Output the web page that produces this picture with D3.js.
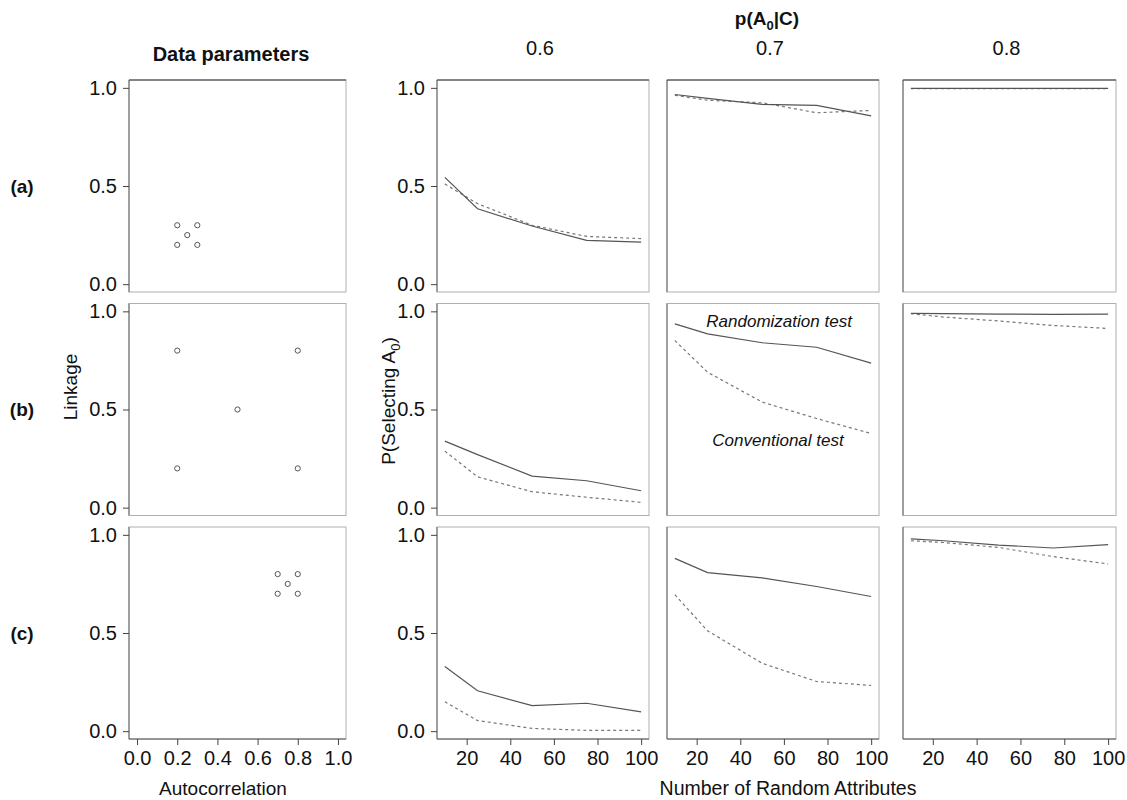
<!DOCTYPE html>
<html>
<head>
<meta charset="utf-8">
<script src="https://cdn.jsdelivr.net/npm/d3@7"></script>
<style>
  body { margin: 0; background: #fff; }
  text { font-family: "Liberation Sans", Arial, Helvetica, sans-serif; fill: #111; }
</style>
</head>
<body>
<script>
var width = 1127;
var height = 800;

// data
var numAttrs = [10, 25, 50, 75, 100];
var pLevels = ["0.6", "0.7", "0.8"];
var rowLabels = ["(a)", "(b)", "(c)"];

// [autocorrelation, linkage] of the generated data sets
var paramsA = [[0.2, 0.2], [0.3, 0.2], [0.25, 0.25], [0.2, 0.3], [0.3, 0.3]];
var paramsB = [[0.2, 0.2], [0.8, 0.2], [0.5, 0.5], [0.2, 0.8], [0.8, 0.8]];
var paramsC = [[0.7, 0.7], [0.8, 0.7], [0.75, 0.75], [0.7, 0.8], [0.8, 0.8]];

// randomization test (solid), one array per p(A0|C) level
var randA = [[0.544, 0.384, 0.296, 0.223, 0.214],
             [0.966, 0.946, 0.916, 0.911, 0.857],
             [0.997, 0.997, 0.997, 0.997, 0.997]];
var randB = [[0.339, 0.270, 0.161, 0.137, 0.086],
             [0.936, 0.885, 0.840, 0.817, 0.736],
             [0.990, 0.988, 0.986, 0.985, 0.986]];
var randC = [[0.329, 0.206, 0.130, 0.142, 0.098],
             [0.880, 0.808, 0.781, 0.737, 0.686],
             [0.980, 0.970, 0.948, 0.933, 0.950]];

// conventional test (dashed)
var convA = [[0.510, 0.410, 0.300, 0.243, 0.232],
             [0.962, 0.937, 0.924, 0.873, 0.885],
             [0.996, 0.996, 0.996, 0.996, 0.996]];
var convB = [[0.288, 0.157, 0.081, 0.053, 0.027],
             [0.851, 0.690, 0.538, 0.454, 0.378],
             [0.988, 0.971, 0.951, 0.928, 0.913]];
var convC = [[0.150, 0.054, 0.014, 0.004, 0.004],
             [0.695, 0.511, 0.346, 0.253, 0.233],
             [0.970, 0.961, 0.936, 0.889, 0.852]];

var params = [paramsA, paramsB, paramsC];
var rand = [randA, randB, randC];
var conv = [convA, convB, convC];

// layout
var colLeft = [129, 437, 667, 903];
var colW = [217, 212, 212, 213];
var rowTop = [80, 303.5, 527];
var panelH = 212;

var svg = d3.select("body").append("svg")
    .attr("width", width)
    .attr("height", height);

var y = d3.scaleLinear().domain([-0.04, 1.04]).range([panelH, 0]);
var xPar = d3.scaleLinear().domain([-0.04, 1.04]).range([0, colW[0]]);

var line = function (xs) {
  return d3.line()
    .x(function (d, i) { return xs(numAttrs[i]); })
    .y(function (d) { return y(d); });
};

function styleAxis(g) {
  g.select(".domain").remove();
  g.selectAll(".tick line").attr("stroke", "#444");
  g.selectAll(".tick text")
    .style("font-size", "20px")
    .attr("fill", "#111");
}

function frame(g, w, r) {
  g.append("rect")
    .attr("width", w).attr("height", panelH)
    .attr("fill", "none").attr("stroke", "#b0b0b0");
  g.append("line")
    .attr("x1", 0).attr("x2", 0).attr("y1", 0).attr("y2", panelH)
    .attr("stroke", "#666");
  if (r == 0) {
    g.append("line").attr("x1", 0).attr("x2", w).attr("y1", 0).attr("y2", 0)
      .attr("stroke", "#333");
  }
  if (r == 2) {
    g.append("line").attr("x1", 0).attr("x2", w).attr("y1", panelH).attr("y2", panelH)
      .attr("stroke", "#555");
  }
}

rowLabels.forEach(function (lab, r) {
  // data parameter panel
  var g = svg.append("g")
      .attr("transform", "translate(" + colLeft[0] + "," + rowTop[r] + ")");
  frame(g, colW[0], r);

  g.append("g")
    .call(d3.axisLeft(y).tickValues([0, 0.5, 1]).tickFormat(d3.format(".1f"))
      .tickSize(6).tickPadding(6))
    .call(styleAxis);

  if (r == 2) {
    g.append("g")
      .attr("transform", "translate(0," + panelH + ")")
      .call(d3.axisBottom(xPar).tickValues([0, 0.2, 0.4, 0.6, 0.8, 1])
        .tickFormat(d3.format(".1f")).tickSize(6).tickPadding(6))
      .call(styleAxis);
  }

  g.selectAll("circle")
    .data(params[r])
    .enter().append("circle")
    .attr("cx", function (d) { return xPar(d[0]); })
    .attr("cy", function (d) { return y(d[1]); })
    .attr("r", 2.6)
    .attr("fill", "none")
    .attr("stroke", "#555")
    .attr("stroke-width", 1);

  svg.append("text")
    .attr("x", 22).attr("y", rowTop[r] + y(0.5))
    .attr("dy", "0.35em")
    .attr("text-anchor", "middle")
    .style("font-size", "19px").style("font-weight", "bold")
    .text(lab);

  // p(A0|C) panels
  pLevels.forEach(function (p, c) {
    var w = colW[c + 1];
    var x = d3.scaleLinear().domain([6.4, 103.6]).range([0, w]);
    var pg = svg.append("g")
        .attr("transform", "translate(" + colLeft[c + 1] + "," + rowTop[r] + ")");
    frame(pg, w, r);

    if (c == 0) {
      pg.append("g")
        .call(d3.axisLeft(y).tickValues([0, 0.5, 1]).tickFormat(d3.format(".1f"))
          .tickSize(6).tickPadding(6))
        .call(styleAxis);
    }
    if (r == 2) {
      pg.append("g")
        .attr("transform", "translate(0," + panelH + ")")
        .call(d3.axisBottom(x).tickValues([20, 40, 60, 80, 100])
          .tickSize(6).tickPadding(6))
        .call(styleAxis);
    }

    pg.append("path")
      .datum(conv[r][c])
      .attr("d", line(x))
      .attr("fill", "none")
      .attr("stroke", "#777")
      .attr("stroke-width", 1.2)
      .attr("stroke-dasharray", "3,3");

    pg.append("path")
      .datum(rand[r][c])
      .attr("d", line(x))
      .attr("fill", "none")
      .attr("stroke", "#555")
      .attr("stroke-width", 1.2);

    if (r == 1 && c == 1) {
      pg.append("text")
        .attr("x", x(57.8)).attr("y", y(0.92))
        .attr("text-anchor", "middle")
        .style("font-size", "17px").style("font-style", "italic")
        .text("Randomization test");
      pg.append("text")
        .attr("x", x(57.3)).attr("y", y(0.316))
        .attr("text-anchor", "middle")
        .style("font-size", "17px").style("font-style", "italic")
        .text("Conventional test");
    }

    if (r == 0) {
      svg.append("text")
        .attr("x", colLeft[c + 1] + w / 2 - 3).attr("y", 55)
        .attr("text-anchor", "middle")
        .style("font-size", "20px")
        .text(p);
    }
  });
});

// titles
svg.append("text")
  .attr("x", 231).attr("y", 61)
  .attr("text-anchor", "middle")
  .style("font-size", "20px").style("font-weight", "bold")
  .text("Data parameters");

var head = svg.append("text")
  .attr("x", 767).attr("y", 25)
  .attr("text-anchor", "middle")
  .style("font-size", "19px").style("font-weight", "bold");
head.append("tspan").text("p(A");
head.append("tspan").attr("dy", 5).style("font-size", "13px").text("0");
head.append("tspan").attr("dy", -5).text("|C)");

svg.append("text")
  .attr("x", 223).attr("y", 795)
  .attr("text-anchor", "middle")
  .style("font-size", "19px")
  .text("Autocorrelation");

svg.append("text")
  .attr("x", 788).attr("y", 795)
  .attr("text-anchor", "middle")
  .style("font-size", "19.5px")
  .text("Number of Random Attributes");

svg.append("text")
  .attr("transform", "translate(77,387) rotate(-90)")
  .attr("text-anchor", "middle")
  .style("font-size", "19px")
  .text("Linkage");

var ylab = svg.append("text")
  .attr("transform", "translate(395,401) rotate(-90)")
  .attr("text-anchor", "middle")
  .style("font-size", "19px");
ylab.append("tspan").text("P(Selecting A");
ylab.append("tspan").attr("dy", 5).style("font-size", "13px").text("0");
ylab.append("tspan").attr("dy", -5).text(")");
</script>
</body>
</html>
